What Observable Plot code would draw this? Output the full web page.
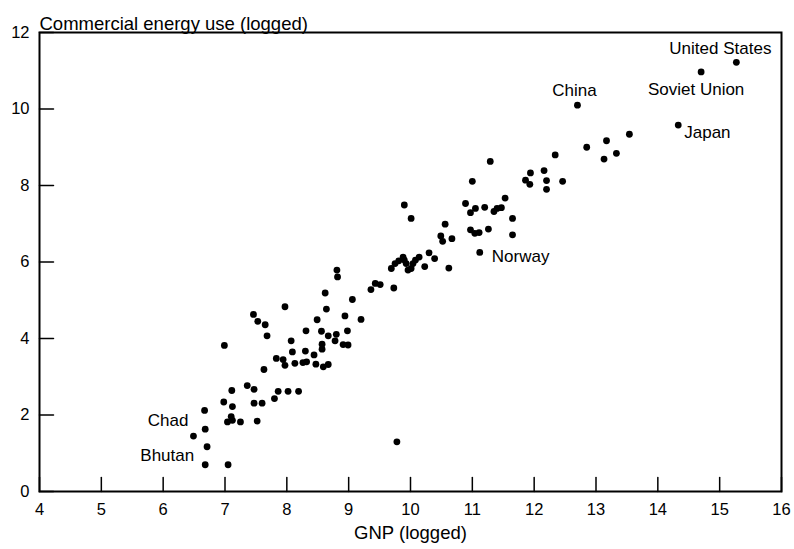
<!DOCTYPE html>
<html>
<head>
<meta charset="utf-8">
<script src="https://cdn.jsdelivr.net/npm/d3@7"></script>
<script src="https://cdn.jsdelivr.net/npm/@observablehq/plot@0.6"></script>
<style>
  html, body { margin: 0; padding: 0; background: #fff; }
</style>
</head>
<body>
<div id="chart"></div>
<script>
// GNP (logged) for each country
const gnp = [6.49,6.67,6.68,6.71,6.68,7.05,6.99,6.98,7.11,7.12,7.10,7.04,7.12,7.25,7.36,7.47,7.47,7.60,7.52,7.46,
  7.53,7.65,7.68,7.63,7.80,7.86,8.02,8.19,7.83,7.94,7.97,7.97,8.07,8.09,8.13,8.26,8.32,8.30,8.31,8.44,
  8.47,8.49,8.56,8.57,8.57,8.59,8.67,8.67,8.62,8.64,8.81,8.82,8.80,8.78,8.91,8.99,8.98,8.94,9.06,9.20,
  9.36,9.43,9.51,9.73,9.78,9.69,9.75,9.81,9.88,9.90,9.93,9.96,10.01,10.04,10.08,10.14,10.23,10.30,10.39,10.62,
  9.90,10.01,10.49,10.52,10.67,10.56,10.89,10.97,11.05,11.00,11.20,11.35,11.40,11.47,11.53,11.65,10.97,11.04,11.11,11.26,
  11.65,11.12,11.29,11.86,11.93,11.94,12.16,12.20,12.20,12.46,12.34,12.70,12.85,13.13,13.17,13.33,13.54,14.33,14.70,15.27];

// Commercial energy use (logged) for each country
const energy = [1.45,2.12,1.63,1.17,0.70,0.70,3.82,2.34,2.64,2.22,1.96,1.82,1.86,1.82,2.77,2.67,2.31,2.31,1.84,4.63,
  4.45,4.36,4.07,3.19,2.43,2.62,2.62,2.62,3.48,3.45,3.30,4.83,3.94,3.65,3.35,3.37,3.39,3.67,4.20,3.57,
  3.33,4.49,4.19,3.85,3.72,3.26,3.32,4.07,5.19,4.77,5.79,5.61,4.11,3.94,3.84,3.83,4.20,4.59,5.02,4.50,
  5.28,5.44,5.41,5.32,1.30,5.83,5.96,6.03,6.13,6.05,5.96,5.79,5.83,5.96,6.05,6.13,5.88,6.24,6.09,5.84,
  7.49,7.14,6.68,6.54,6.61,6.99,7.53,7.29,7.40,8.11,7.43,7.32,7.40,7.42,7.67,7.14,6.84,6.75,6.77,6.86,
  6.71,6.25,8.63,8.14,8.03,8.33,8.39,8.13,7.90,8.11,8.80,10.10,9.00,8.69,9.17,8.84,9.34,9.58,10.97,11.22];

// Labelled countries and the index of their point
const labelNames = ["United States", "Soviet Union", "China", "Japan", "Norway", "Chad", "Bhutan"];
const labelPoint = [119, 118, 111, 117, 101, 0, 4];

const xTicks = [4,5,6,7,8,9,10,11,12,13,14,15,16];
const yTicks = [0,2,4,6,8,10,12];
const xTitle = "GNP (logged)";
const yTitle = "Commercial energy use (logged)";

const points = gnp.map((g, i) => ({gnp: g, energy: energy[i]}));
const labelled = labelNames.map((name, j) => ({name, ...points[labelPoint[j]]}));
const lab = name => labelled.filter(d => d.name === name);

const labelStyle = {x: "gnp", y: "energy", text: "name", fontSize: 17, fill: "#000"};

// inward tick shapes
const tickUp = {draw(ctx, l) { ctx.moveTo(0, 0); ctx.lineTo(0, -l); }};
const tickRight = {draw(ctx, l) { ctx.moveTo(0, 0); ctx.lineTo(l, 0); }};

const chart = Plot.plot({
  width: 794,
  height: 549,
  marginLeft: 39,
  marginRight: 13,
  marginTop: 32,
  marginBottom: 58,
  style: {fontFamily: "'Liberation Sans', Arial, Helvetica, sans-serif", fontSize: "16px", color: "#000", background: "#fff"},
  x: {domain: [4, 16]},
  y: {domain: [0, 12]},
  marks: [
    Plot.axisX(xTicks, {tickSize: 0, tickPadding: 12, label: null, fontSize: 16.5}),
    Plot.axisY(yTicks, {tickSize: 0, tickPadding: 10, label: null, fontSize: 16.5}),
    Plot.vector(xTicks, {x: d => d, frameAnchor: "bottom", length: 14, anchor: "start", shape: tickUp, stroke: "#000", strokeWidth: 1.5}),
    Plot.vector(yTicks, {y: d => d, frameAnchor: "left", length: 14, anchor: "start", shape: tickRight, stroke: "#000", strokeWidth: 1.5}),
    Plot.frame({strokeWidth: 2, stroke: "#000"}),
    Plot.dot(points, {x: "gnp", y: "energy", r: 3.4, fill: "#000"}),
    Plot.text(lab("United States"), {...labelStyle, dx: -16, dy: -14}),
    Plot.text(lab("Soviet Union"), {...labelStyle, dx: -5, dy: 18}),
    Plot.text(lab("China"), {...labelStyle, dx: -3, dy: -15}),
    Plot.text(lab("Japan"), {...labelStyle, textAnchor: "start", dx: 6, dy: 7}),
    Plot.text(lab("Norway"), {...labelStyle, textAnchor: "start", dx: 12, dy: 4}),
    Plot.text(lab("Chad"), {...labelStyle, textAnchor: "end", dx: -5, dy: -15}),
    Plot.text(lab("Bhutan"), {...labelStyle, textAnchor: "end", dx: -11, dy: -9}),
    Plot.text([yTitle], {text: d => d, frameAnchor: "top-left", textAnchor: "start", dy: -16, fontSize: 18.5, fill: "#000"}),
    Plot.text([xTitle], {text: d => d, frameAnchor: "bottom", dy: 47, fontSize: 18.5, fill: "#000"})
  ]
});
document.getElementById("chart").appendChild(chart);
</script>
</body>
</html>
